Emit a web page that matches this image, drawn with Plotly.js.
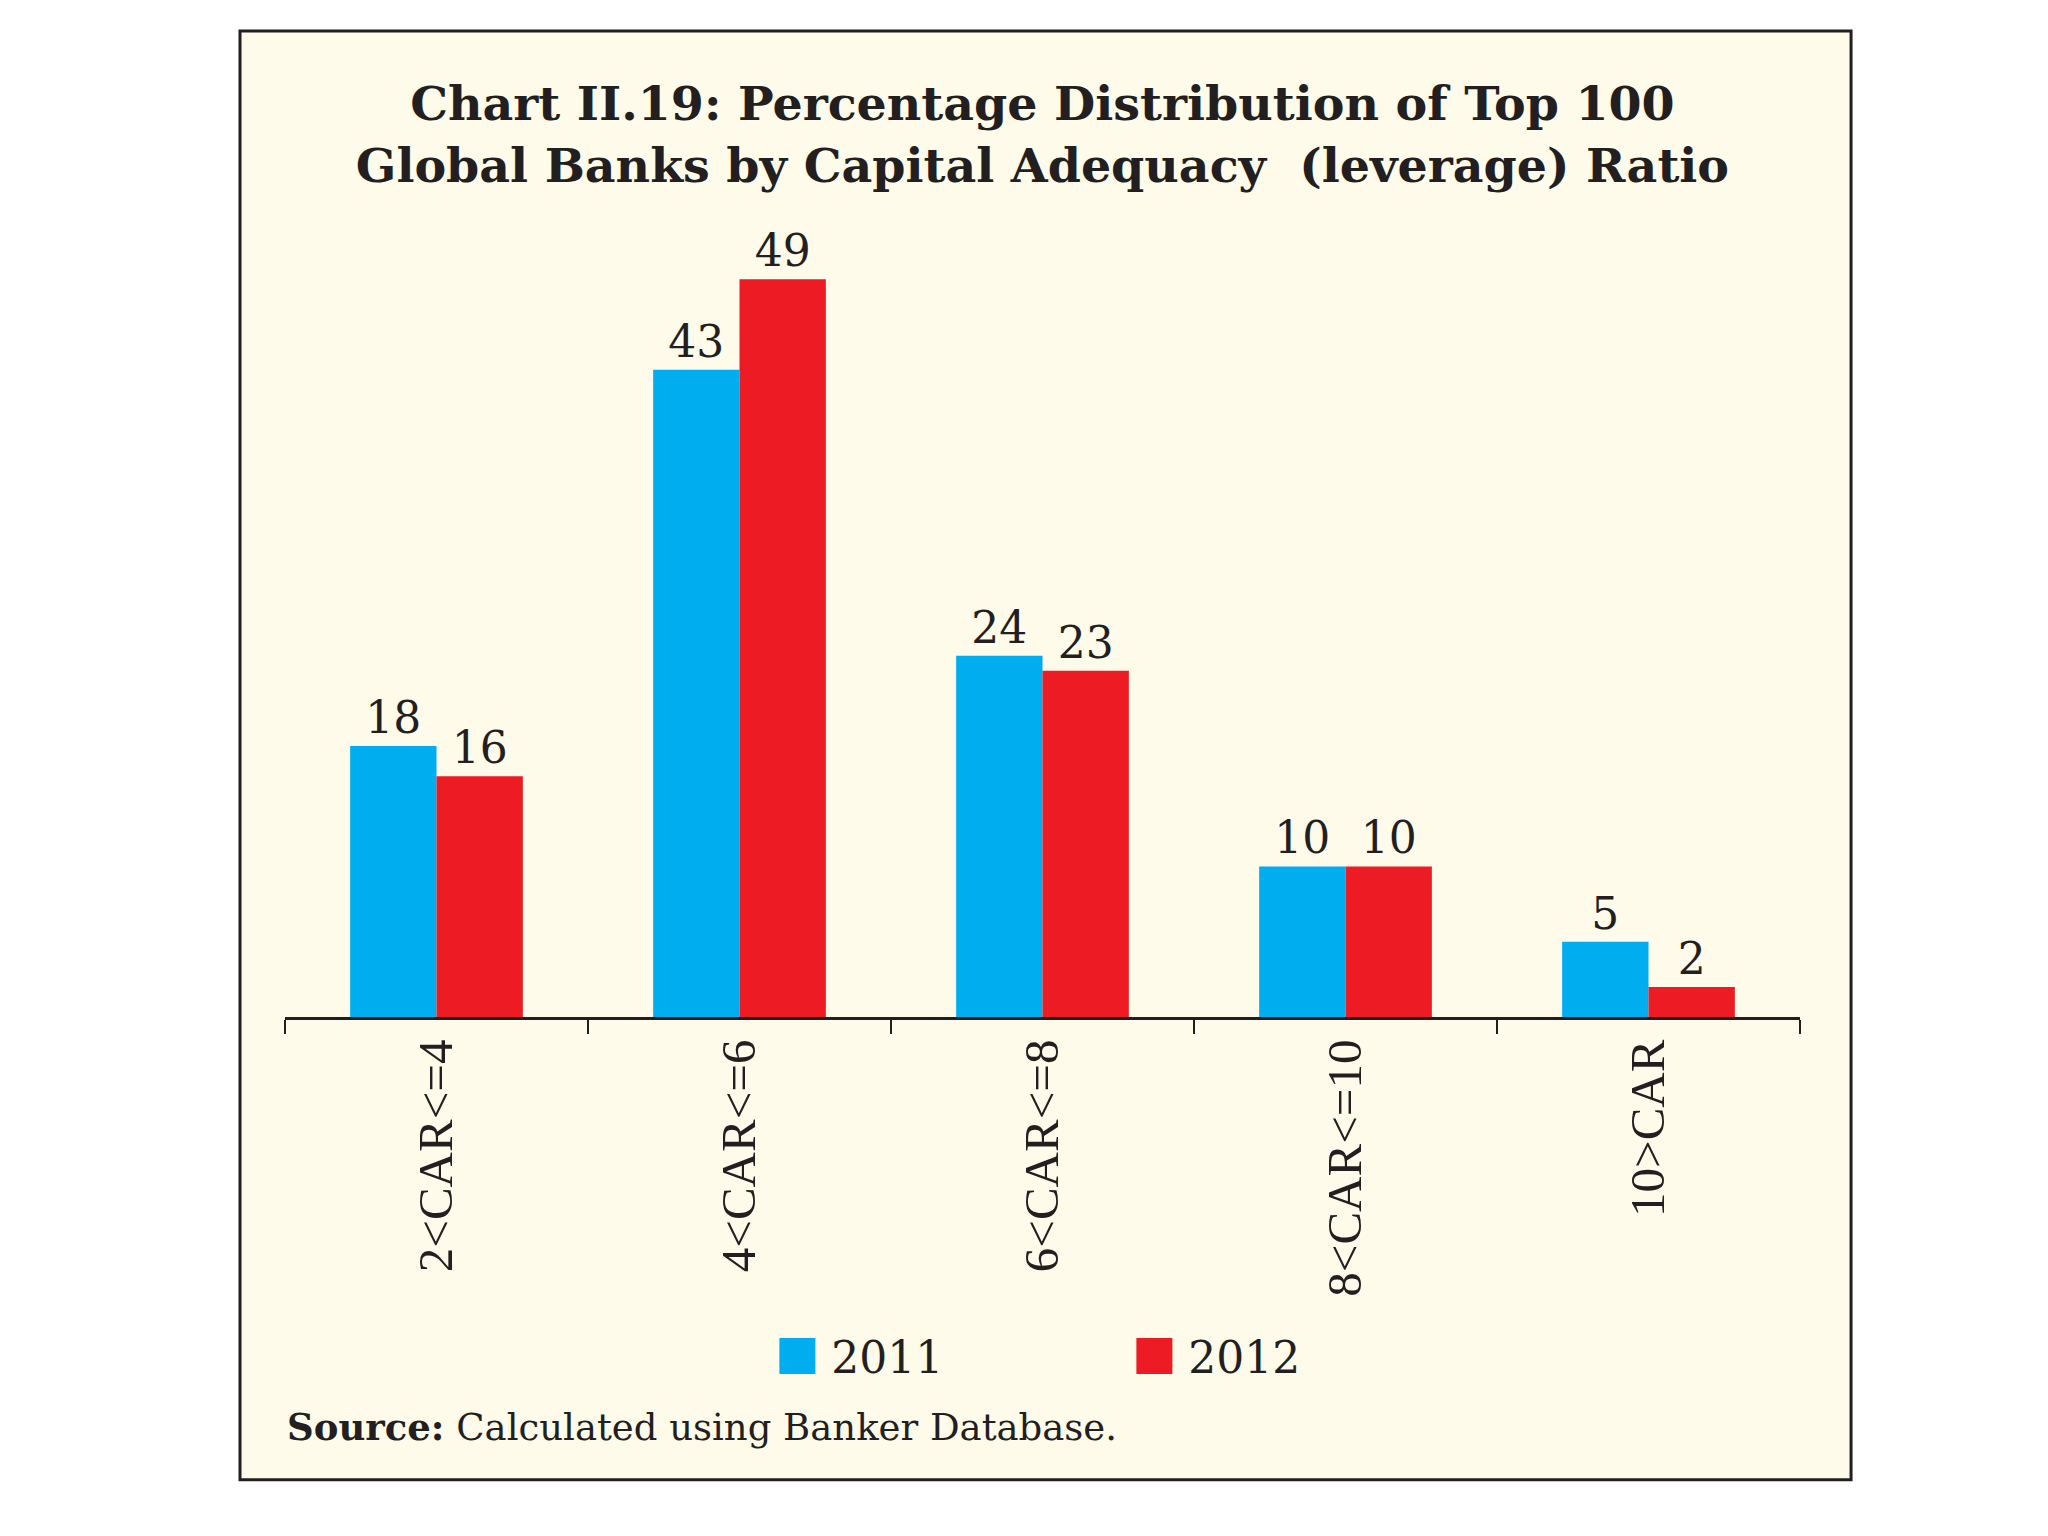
<!DOCTYPE html>
<html>
<head>
<meta charset="utf-8">
<script src="https://cdn.plot.ly/plotly-3.0.1.min.js"></script>
<style>
  html, body { margin: 0; padding: 0; background: #ffffff; }
  #chart { width: 2048px; height: 1536px; }
</style>
</head>
<body>
<div id="chart"></div>
<script>
// ---- Data ----
const categories = ["2<CAR<=4", "4<CAR<=6", "6<CAR<=8", "8<CAR<=10", "10>CAR"];
const values2011 = [18, 43, 24, 10, 5];
const values2012 = [16, 49, 23, 10, 2];
const seriesNames = ["2011", "2012"];
const titleText = "Chart II.19: Percentage Distribution of Top 100<br>Global Banks by Capital Adequacy  (leverage) Ratio";
const sourceText = "<b>Source:</b> Calculated using Banker Database.";

// ---- Styles ----
const BLUE = "#00AEEF";
const RED = "#ED1C24";
const CREAM = "#FEFBEA";
const INK = "#231F20";
const SERIF = "Liberation Serif, Times New Roman, serif";
const SERIF_WIDE = "DejaVu Serif, serif";

const traces = [
  {
    type: "bar", name: "\u00a0" + seriesNames[0], x: categories, y: values2011,
    marker: { color: BLUE },
    text: values2011.map(String), textposition: "outside",
    textfont: { family: SERIF_WIDE, size: 44, color: INK },
    cliponaxis: false, hoverinfo: "x+y+name"
  },
  {
    type: "bar", name: "\u00a0" + seriesNames[1], x: categories, y: values2012,
    marker: { color: RED },
    text: values2012.map(String), textposition: "outside",
    textfont: { family: SERIF_WIDE, size: 44, color: INK },
    cliponaxis: false, hoverinfo: "x+y+name"
  }
];

const layout = {
  width: 2048, height: 1536,
  paper_bgcolor: "#ffffff",
  plot_bgcolor: "rgba(0,0,0,0)",
  margin: { l: 285, r: 248, t: 189, b: 519, pad: 0 },
  barmode: "group",
  bargap: 0.43,
  bargroupgap: 0,
  showlegend: true,
  title: {
    text: titleText,
    x: 0.509, xanchor: "center",
    y: 0.922, yanchor: "middle",
    font: { family: SERIF_WIDE, size: 47.5, color: INK, weight: "bold" }
  },
  xaxis: {
    type: "category",
    showline: true, linecolor: INK, linewidth: 3,
    ticks: "outside", tickson: "boundaries", ticklen: 14, tickwidth: 2, tickcolor: INK,
    tickangle: -90,
    tickfont: { family: SERIF, size: 49, color: INK },
    showgrid: false, zeroline: false
  },
  yaxis: {
    range: [0, 55], visible: false, showgrid: false, zeroline: false
  },
  legend: {
    orientation: "h",
    x: 0.325, xanchor: "left",
    y: -0.41, yanchor: "middle",
    font: { family: SERIF_WIDE, size: 44, color: INK },
    bgcolor: "rgba(0,0,0,0)",
    entrywidth: 312, entrywidthmode: "pixels",
    traceorder: "normal"
  },
  shapes: [
    {
      type: "rect", xref: "paper", yref: "paper", layer: "below",
      x0: -0.0297, x1: 1.0337, y0: -0.559, y1: 1.1908,
      fillcolor: CREAM, line: { color: INK, width: 3 }
    }
  ],
  annotations: [
    {
      text: sourceText, xref: "paper", yref: "paper",
      x: 0, xanchor: "left", y: -0.495, yanchor: "middle",
      showarrow: false,
      font: { family: SERIF_WIDE, size: 37, color: INK }
    }
  ]
};

Plotly.newPlot("chart", traces, layout, { displayModeBar: false, staticPlot: true }).then(function (gd) {
  // enlarge the legend swatches to match the reference's large squares
  gd.querySelectorAll(".legend .legendpoints path").forEach(function (p) {
    p.setAttribute("transform", "translate(20,0) scale(3)");
  });
});
</script>
</body>
</html>
